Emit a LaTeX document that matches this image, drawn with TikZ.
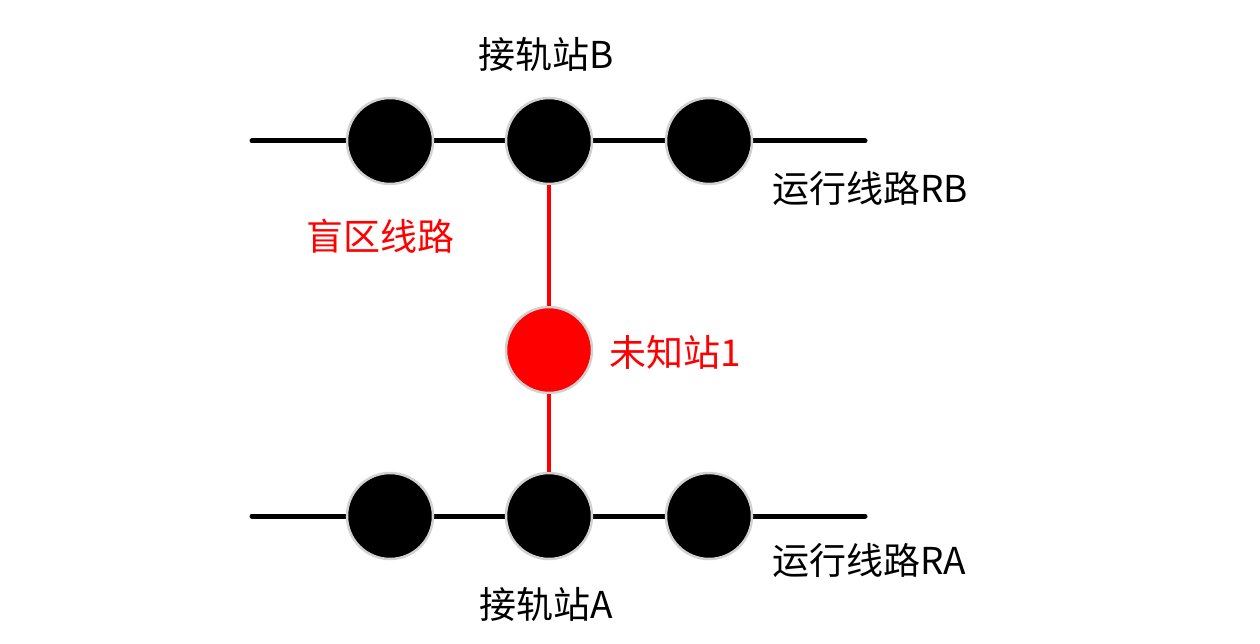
\documentclass[tikz,border=0pt]{standalone}
\usepackage{fontspec}
\setmainfont{Noto Sans CJK SC}
\begin{document}
\begin{tikzpicture}[x=1pt,y=-1pt,
  station/.style={circle,fill=black,draw={rgb,255:red,210;green,210;blue,210},line width=2.5pt,minimum size=86pt,inner sep=0pt},
  unknown/.style={station,fill=red},
  track/.style={line width=5pt,black,line cap=round},
  blind/.style={line width=4.5pt,red},
  lbl/.style={font=\fontsize{37}{42}\selectfont,inner sep=0pt},
  rlbl/.style={lbl,text=red}]
\useasboundingbox (0,0) rectangle (1260,644);
\coordinate (bl) at (252,141);
\coordinate (br) at (865,141);
\coordinate (al) at (252,516);
\coordinate (ar) at (865,516);
\draw[track] (bl) -- (br);
\draw[track] (al) -- (ar);
\node[station] (b1) at (390,141) {};
\node[station] (b2) at (549,141) {};
\node[station] (b3) at (709,141) {};
\node[station] (a1) at (390,516) {};
\node[station] (a2) at (549,516) {};
\node[station] (a3) at (709,516) {};
\node[unknown] (u) at (549,350) {};
\draw[blind] (b2) -- (u);
\draw[blind] (u) -- (a2);
\node[lbl] (tb) at (546,54) {接轨站B};
\node[lbl,anchor=west] (rb) at (772,188) {运行线路RB};
\node[rlbl,anchor=west] (mq) at (306,236) {盲区线路};
\node[rlbl,anchor=west] (wz) at (609,352) {未知站1};
\node[lbl,anchor=west] (ra) at (772,560) {运行线路RA};
\node[lbl] (ta) at (546,604) {接轨站A};
\end{tikzpicture}
\end{document}
